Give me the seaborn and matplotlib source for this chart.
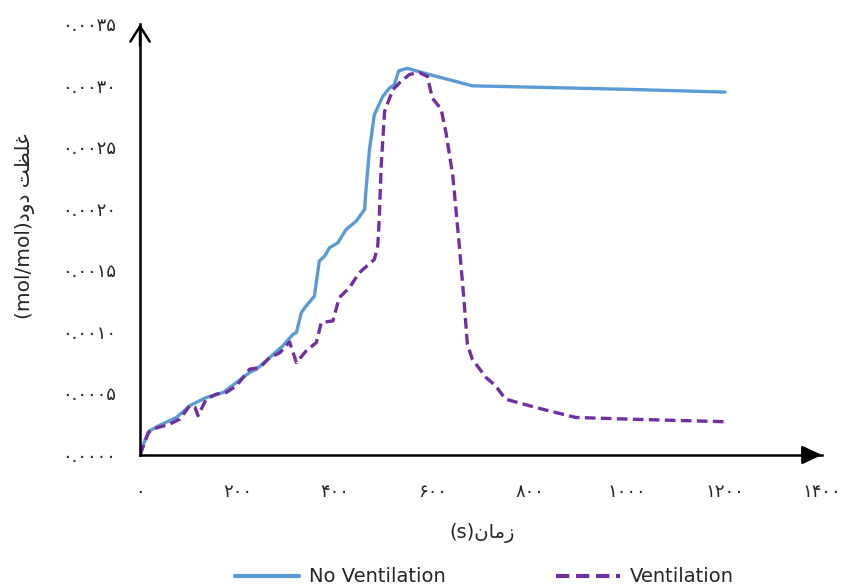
import numpy as np
import pandas as pd
import matplotlib
matplotlib.use("Agg")
import matplotlib.pyplot as plt
import seaborn as sns

# Datos (tiempo en s, concentración en mol/mol)
time_no_vent = [0, 10, 20, 41, 75, 102, 136, 171, 198, 225, 239, 266, 293, 314, 321,
                331, 341, 358, 368, 379, 389, 406, 423, 444, 461, 464, 471, 481, 498,
                512, 522, 531, 549, 566, 594, 682, 996, 1201]
conc_no_vent = [0.0, 0.000120, 0.000197, 0.000243, 0.000305, 0.000400, 0.000467,
                0.000508, 0.000589, 0.000670, 0.000697, 0.000791, 0.000886, 0.000980,
                0.000994, 0.001156, 0.001210, 0.001290, 0.001575, 0.001615, 0.001683,
                0.001723, 0.001831, 0.001900, 0.001994, 0.002156, 0.002480, 0.002763,
                0.002910, 0.002980, 0.003007, 0.003120, 0.003140, 0.003120, 0.003090,
                0.002998, 0.002970, 0.002947]

time_vent = [0, 17, 31, 61, 82, 102, 113, 119, 136, 157, 177, 198, 225, 246, 266, 287,
             307, 321, 341, 362, 372, 396, 409, 430, 450, 481, 488, 491, 495, 502, 519,
             532, 553, 573, 590, 600, 618, 628, 642, 655, 665, 672, 682, 710, 730, 750,
             812, 894, 996, 1201]
conc_vent = [0.0, 0.000184, 0.000216, 0.000251, 0.000292, 0.000400, 0.000386, 0.000319,
             0.000454, 0.000494, 0.000508, 0.000562, 0.000697, 0.000710, 0.000790,
             0.000830, 0.000918, 0.000750, 0.000845, 0.000913, 0.001075, 0.001089,
             0.001278, 0.001359, 0.001480, 0.001588, 0.001696, 0.001910, 0.002340,
             0.002790, 0.002966, 0.003020, 0.003090, 0.003106, 0.003074, 0.002898,
             0.002810, 0.002620, 0.002270, 0.001720, 0.001260, 0.000900, 0.000780,
             0.000630, 0.000562, 0.000454, 0.000386, 0.000305, 0.000292, 0.000270]

series_names = ["No Ventilation", "Ventilation"]
x_ticks = [0, 200, 400, 600, 800, 1000, 1200, 1400]
y_ticks = [0.0, 0.0005, 0.0010, 0.0015, 0.0020, 0.0025, 0.0030, 0.0035]

persian = str.maketrans("0123456789", "۰۱۲۳۴۵۶۷۸۹")
x_labels = [str(v).translate(persian) for v in x_ticks]
y_labels = [f"{v:.4f}".translate(persian) for v in y_ticks]

# títulos en persa (formas de presentación en orden visual)
x_title = "(s)" + "\uFEE5\uFE8E\uFEE3\uFEAF"
y_title = "(mol/mol)" + "\uFEA9\uFEED\uFEA9 \uFE96\uFEC8\uFEE0\uFECF"

df = pd.concat([
    pd.DataFrame({"t": time_no_vent, "c": conc_no_vent, "serie": series_names[0]}),
    pd.DataFrame({"t": time_vent, "c": conc_vent, "serie": series_names[1]}),
])

sns.set_style("white")
plt.rcParams["font.family"] = ["DejaVu Sans"]

fig = plt.figure(figsize=(8.41, 5.87), dpi=100)
ax = fig.add_axes([0.1665, 0.2249, 0.8109, 0.7342])

sns.lineplot(data=df, x="t", y="c", hue="serie", style="serie", ax=ax,
             palette={"No Ventilation": "#5B9BD5", "Ventilation": "#7030A0"},
             dashes={"No Ventilation": "", "Ventilation": (3.2, 1.6)},
             estimator=None, sort=False, linewidth=2.4)

ax.set_xlim(0, 1400)
ax.set_ylim(0, 0.0035)
ax.set_xticks(x_ticks)
ax.set_xticklabels(x_labels, fontsize=13)
ax.set_yticks(y_ticks)
ax.set_yticklabels(y_labels, fontsize=13)
ax.tick_params(axis="both", direction="out", length=6, width=1.8, color="black")
ax.tick_params(axis="x", pad=14)
ax.tick_params(axis="y", pad=11)

ax.set_xlabel(x_title, fontsize=14)
ax.set_ylabel(y_title, fontsize=14.5)
ax.xaxis.set_label_coords(0.501, -0.181)
ax.xaxis.label.set_va("center")
ax.yaxis.set_label_coords(-0.168, 0.53)
ax.yaxis.label.set_va("center")

for s in ["top", "right"]:
    ax.spines[s].set_visible(False)
for s in ["left", "bottom"]:
    ax.spines[s].set_linewidth(1.8)
    ax.spines[s].set_color("black")

# flechas de los ejes
ax.annotate("", xy=(0, 1.0), xytext=(0, 0.95), xycoords="axes fraction",
            arrowprops=dict(arrowstyle="->,head_length=0.55,head_width=0.35",
                            lw=1.8, color="black", mutation_scale=20,
                            shrinkA=0, shrinkB=0), annotation_clip=False)
ax.annotate("", xy=(1.0, 0), xytext=(0.97, 0), xycoords="axes fraction",
            arrowprops=dict(arrowstyle="-|>,head_length=0.6,head_width=0.28",
                            lw=1.8, color="black", mutation_scale=20,
                            shrinkA=0, shrinkB=0), annotation_clip=False)

sns.move_legend(ax, "center", bbox_to_anchor=(0.505, -0.283), ncol=2, frameon=False,
                title=None, fontsize=14, handlelength=3.3, handletextpad=0.5,
                columnspacing=5.7)
for line in ax.get_legend().get_lines():
    line.set_linewidth(3)

fig.savefig("out.png", dpi=100)
